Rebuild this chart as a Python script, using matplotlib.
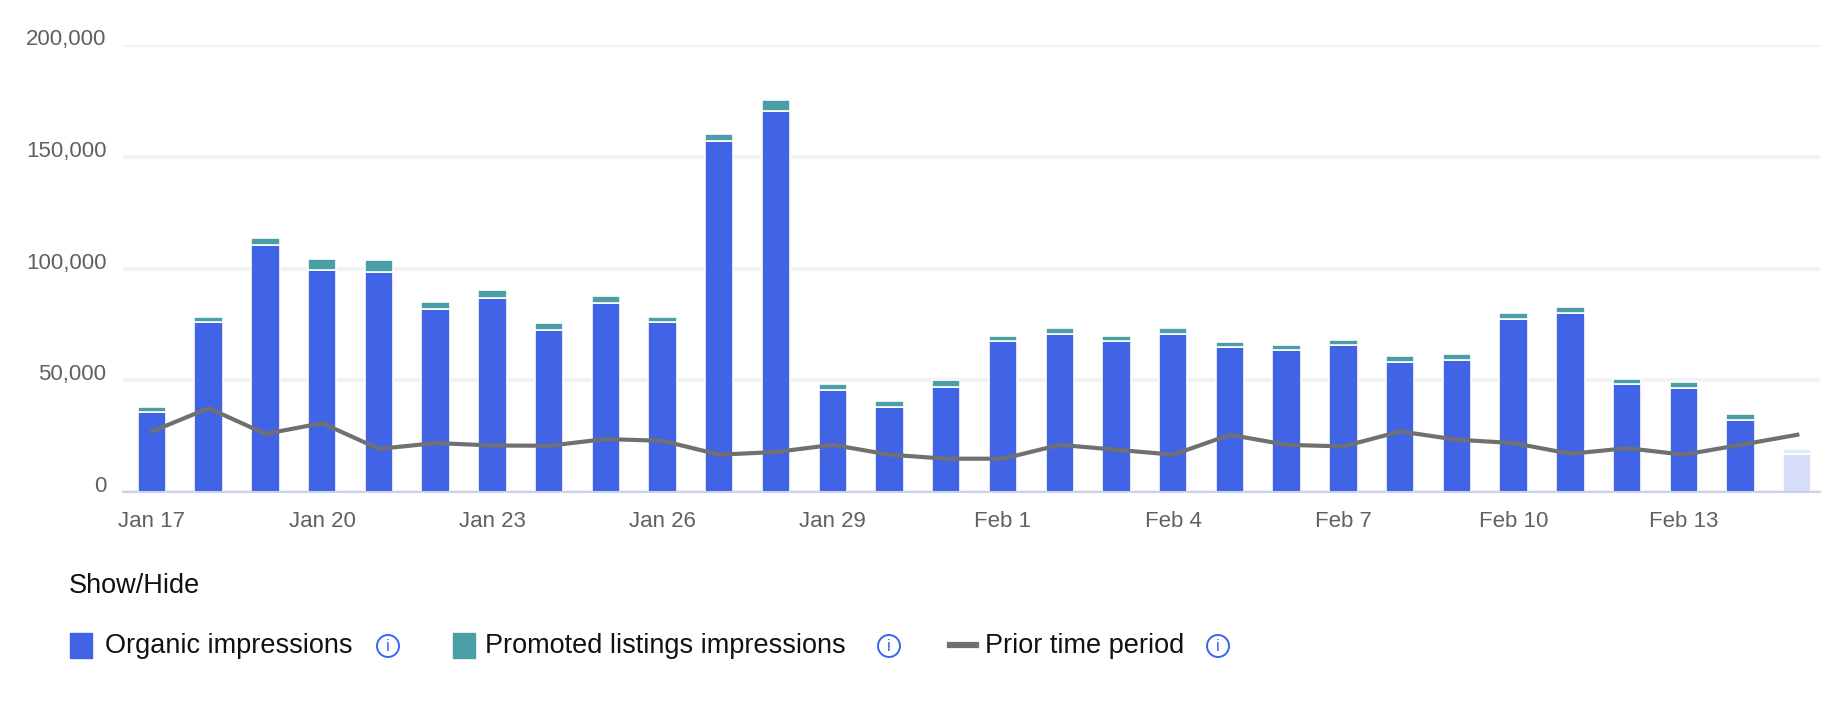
import matplotlib.pyplot as plt
import matplotlib.transforms as mtransforms
from matplotlib.patches import Rectangle, Circle
from matplotlib.lines import Line2D

plt.rcParams['font.family'] = ['Liberation Sans', 'DejaVu Sans']

# data
dates = ['Jan 17', 'Jan 18', 'Jan 19', 'Jan 20', 'Jan 21', 'Jan 22', 'Jan 23', 'Jan 24',
         'Jan 25', 'Jan 26', 'Jan 27', 'Jan 28', 'Jan 29', 'Jan 30', 'Jan 31', 'Feb 1',
         'Feb 2', 'Feb 3', 'Feb 4', 'Feb 5', 'Feb 6', 'Feb 7', 'Feb 8', 'Feb 9',
         'Feb 10', 'Feb 11', 'Feb 12', 'Feb 13', 'Feb 14', 'Feb 15']
organic = [35600, 75900, 110300, 99400, 98500, 81800, 86900, 72500, 84400, 75900,
           157100, 170500, 45700, 38100, 47200, 67600, 70800, 67600, 70800, 64900,
           63400, 65800, 58300, 59100, 77500, 80100, 48200, 46600, 32300, 17100]
promoted = [2300, 2400, 3200, 4900, 5100, 3300, 3300, 3200, 3100, 2400,
            3300, 5100, 2400, 2500, 2700, 2300, 2400, 2300, 2400, 2400,
            2400, 2400, 2400, 2500, 2400, 2500, 2500, 2400, 2500, 2200]
prior = [27100, 37500, 26000, 30800, 19300, 21900, 20800, 20700, 23700, 22900,
         16700, 17900, 21100, 16700, 14900, 14900, 21100, 18900, 16700, 25600,
         21100, 20400, 27100, 23400, 21900, 17100, 19600, 16700, 21100, 25600]
tick_every = 3
yticks = [0, 50000, 100000, 150000, 200000]

BLUE = '#4163e6'
TEAL = '#4a9ea6'
BLUE_LIGHT = '#d5ddf8'
TEAL_LIGHT = '#dfecee'
GREY_LINE = '#707070'

W, H = 1834, 728
fig = plt.figure(figsize=(W / 100, H / 100), dpi=100)
ax = fig.add_axes([123 / W, (H - 492) / H, (1820 - 123) / W, (492 - 45) / H])

x = list(range(len(dates)))
n = len(dates)
blue_colors = [BLUE] * (n - 1) + [BLUE_LIGHT]
teal_colors = [TEAL] * (n - 1) + [TEAL_LIGHT]

ax.bar(x, organic, width=0.5, color=blue_colors, edgecolor='white', linewidth=1.2, zorder=2)
ax.bar(x, promoted, bottom=organic, width=0.5, color=teal_colors, edgecolor='white',
       linewidth=1.2, zorder=2)
ax.plot(x, prior, color=GREY_LINE, linewidth=3, solid_joinstyle='round', zorder=3)

ax.set_xlim(-0.51, n - 1 + 0.4)
ax.set_ylim(0, 200000)
ax.set_yticks(yticks)
ax.set_yticklabels([f'{v:,}' for v in yticks])
ax.set_xticks(x[::tick_every])
ax.set_xticklabels(dates[::tick_every])
ax.tick_params(axis='both', length=0, labelsize=16, labelcolor='#606060')
ax.tick_params(axis='y', pad=12)
ax.tick_params(axis='x', pad=14)

# y labels sit a little above their gridlines
shift = mtransforms.ScaledTranslation(0, 0.08, fig.dpi_scale_trans)
for lab in ax.get_yticklabels():
    lab.set_transform(lab.get_transform() + shift)

ax.grid(axis='y', color='#f2f2f2', linewidth=3, zorder=0)
ax.set_axisbelow(True)
for s in ['top', 'right', 'left']:
    ax.spines[s].set_visible(False)
ax.spines['bottom'].set_color('#c9d0f0')
ax.spines['bottom'].set_linewidth(1.5)

# legend drawn in pixel coordinates
lg = fig.add_axes([0, 0, 1, 1])
lg.set_xlim(0, W)
lg.set_ylim(H, 0)
lg.axis('off')
lg.patch.set_alpha(0)

lg.text(69, 586, 'Show/Hide', fontsize=19.5, color='#111111', va='center', ha='left')

row_y = 645
items = [
    ('box', BLUE, 70, 'Organic impressions', 105, 388),
    ('box', TEAL, 453, 'Promoted listings impressions', 485, 889),
    ('line', GREY_LINE, 950, 'Prior time period', 985, 1218),
]
for kind, col, mx, label, tx, ix in items:
    if kind == 'box':
        lg.add_patch(Rectangle((mx, row_y - 12), 22, 25, color=col))
    else:
        lg.add_line(Line2D([mx, mx + 26], [row_y, row_y], color=col, linewidth=4.5))
    lg.text(tx, row_y + 1, label, fontsize=19.5, color='#111111', va='center', ha='left')
    lg.add_patch(Circle((ix, row_y + 1), 11, fill=False, edgecolor='#3665f3', linewidth=1.4))
    lg.text(ix, row_y + 1.5, 'i', fontsize=12, color='#3665f3', va='center', ha='center')

fig.savefig('out.png', dpi=100, facecolor='white')
